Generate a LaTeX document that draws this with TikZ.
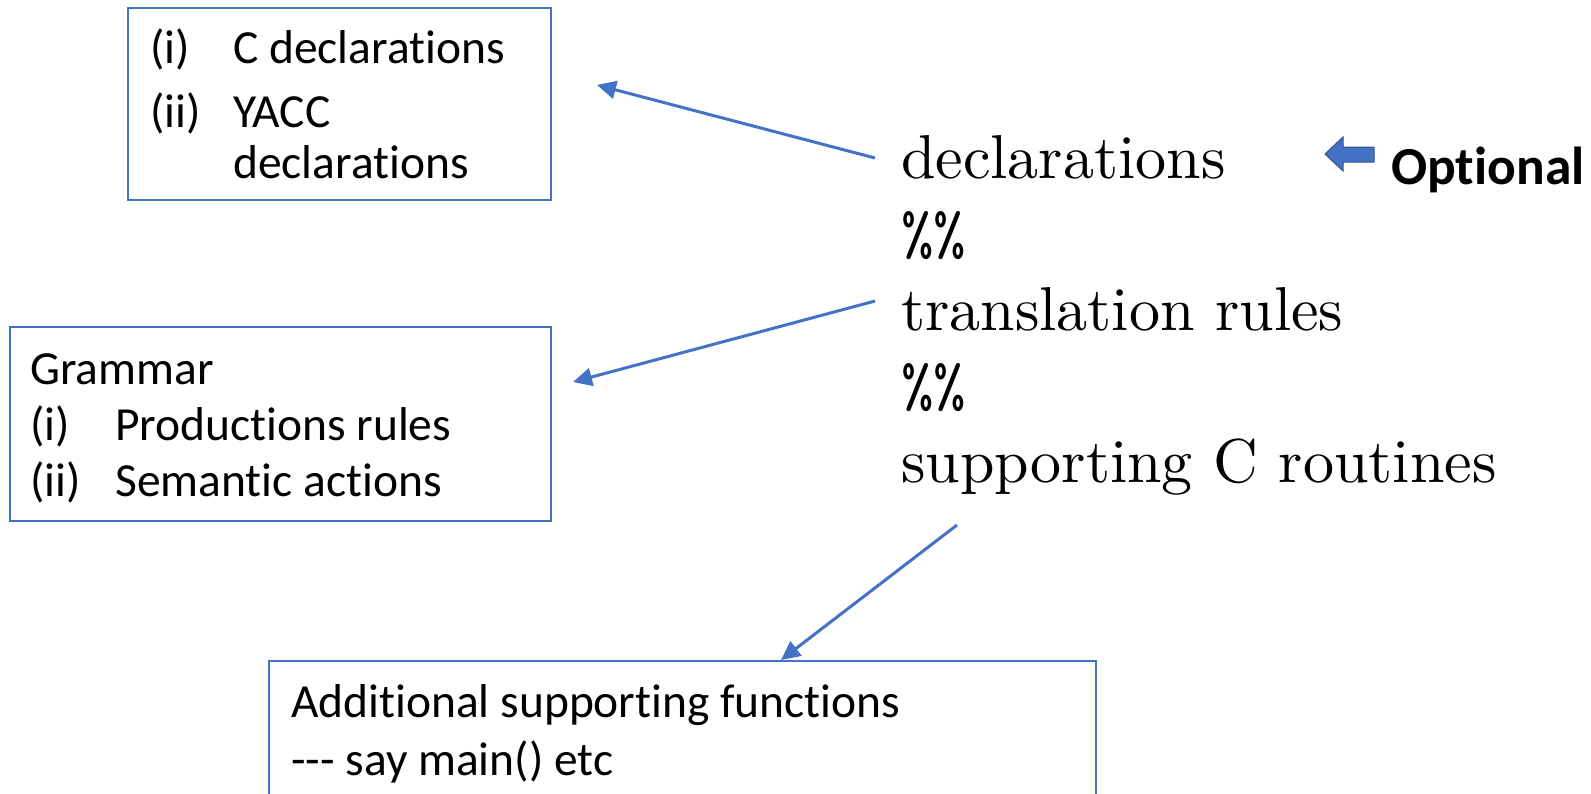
\documentclass[tikz,border=0pt]{standalone}
\usepackage{fontspec}
\usetikzlibrary{arrows.meta}
\newfontfamily\calibri[Ligatures=NoCommon]{Carlito}
\newfontfamily\cmten{lmroman10-regular.otf}
\newfontfamily\ttten{lmmono10-regular.otf}
\definecolor{officeblue}{HTML}{4472C4}
\definecolor{officeedge}{HTML}{2F528F}
\tikzset{
  box/.style={draw=officeblue, line width=1.6pt, inner sep=0pt},
  boxtext/.style={anchor=base west, inner sep=0pt, font=\calibri\fontsize{47.5}{56}\selectfont},
  srctext/.style={anchor=base west, inner sep=0pt, font=\cmten\fontsize{62}{76}\selectfont},
  septext/.style={anchor=base west, inner sep=0pt, font=\ttten\fontsize{62}{76}\selectfont},
  pointer/.style={draw=officeblue, line width=3pt, -{Triangle[length=19pt,width=18pt]}},
}
\begin{document}
\begin{tikzpicture}[x=1pt, y=-1pt]
\useasboundingbox (0,0) rectangle (1591,793);
\clip (0,0) rectangle (1591,793);

% boxes
\draw[box] (128,8) rectangle (551,200);
\draw[box] (10,327) rectangle (551,521);
\draw[box] (269,661) rectangle (1096,830);

% box contents
\node[boxtext] (c1a) at (150,63) {(i)};
\node[boxtext] (c1b) at (233,63) {C declarations};
\node[boxtext] (c2a) at (150,127) {(ii)};
\node[boxtext] (c2b) at (233,127) {YACC};
\node[boxtext] (c2c) at (233,178) {declarations};

\node[boxtext] (g0) at (30,384) {Grammar};
\node[boxtext] (g1a) at (30,440) {(i)};
\node[boxtext] (g1b) at (115,440) {Productions rules};
\node[boxtext] (g2a) at (30,496) {(ii)};
\node[boxtext] (g2b) at (115,496) {Semantic actions};

\node[boxtext] (f1) at (291,717) {Additional supporting functions};
\node[boxtext] (f2) at (291,775) {{-}{-}{-} say main() etc};

% yacc source layout
\node[srctext] (decl) at (901,178) {declarations};
\node[septext] (sep1) at (901,254) {\%\%};
\node[srctext] (rules) at (901,330) {translation rules};
\node[septext] (sep2) at (901,406) {\%\%};
\node[srctext] (routines) at (901,482) {supporting C routines};

% connectors
\coordinate (p1s) at (875,158);
\coordinate (p1e) at (597,85);
\coordinate (p2s) at (875,301);
\coordinate (p2e) at (573,382);
\coordinate (p3s) at (957,525);
\coordinate (p3e) at (781,660);
\draw[pointer] (p1s) -- (p1e);
\draw[pointer] (p2s) -- (p2e);
\draw[pointer] (p3s) -- (p3e);

% block arrow and label
\filldraw[fill=officeblue, draw=officeedge, line width=1pt]
  (1325,154) -- (1343,137) -- (1343,147) -- (1374,147) -- (1374,162) -- (1343,162) -- (1343,171) -- cycle;
\node[anchor=base west, inner sep=0pt, font=\calibri\bfseries\fontsize{53.5}{60}\selectfont] (opt) at (1391,184) {Optional};
\end{tikzpicture}
\end{document}
